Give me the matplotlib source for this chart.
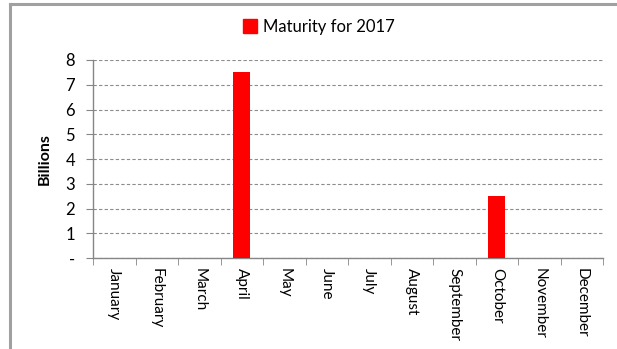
import matplotlib
matplotlib.use("Agg")
import matplotlib.pyplot as plt
from matplotlib.lines import Line2D
from matplotlib.ticker import FixedLocator, FuncFormatter

months = ["January", "February", "March", "April", "May", "June", "July",
          "August", "September", "October", "November", "December"]
values = [0, 0, 0, 7.5, 0, 0, 0, 0, 0, 2.5, 0, 0]
series_name = "Maturity for 2017"

plt.rcParams['font.family'] = ['Lato', 'DejaVu Sans']

W, H = 617, 349
fig = plt.figure(figsize=(W/100, H/100), dpi=100)
ax = fig.add_axes([93/W, 1-258/H, (603-93)/W, (258-60)/H])

x = list(range(len(months)))
ax.bar(x, values, width=0.4, color="#ff0000", zorder=3, label=series_name)

ax.set_xlim(-0.5, 11.5)
ax.set_ylim(0, 8)
ax.set_yticks(range(0, 9))
ax.yaxis.set_major_formatter(FuncFormatter(lambda v, p: "-" if v == 0 else f"{int(v)}"))
ax.set_xticks(x)
ax.set_xticklabels(months, rotation=-90, fontsize=11)
ax.xaxis.set_minor_locator(FixedLocator([i - 0.5 for i in range(13)]))
ax.tick_params(axis='x', which='major', length=0, pad=7)
ax.tick_params(axis='x', which='minor', length=5, color="#868686", direction='out')
ax.tick_params(axis='y', length=5, color="#868686", labelsize=12, pad=8)

ax.grid(axis='y', linestyle=(0, (3, 2)), color="#8c8c8c", linewidth=0.8, zorder=0)
for s in ["top", "right"]:
    ax.spines[s].set_visible(False)
for s in ["left", "bottom"]:
    ax.spines[s].set_color("#868686")
    ax.spines[s].set_linewidth(1)

ax.set_ylabel("Billions", fontsize=11.5, fontweight='bold', labelpad=10)

handle = Line2D([], [], marker='s', color='none', markerfacecolor='#ff0000',
                markeredgecolor='#ff0000', markersize=10)
fig.legend([handle], [series_name], loc='center', bbox_to_anchor=(318/W, 1-27/H),
           frameon=False, fontsize=12, handletextpad=0.3, handlelength=1)

# chart border
fig.add_artist(Line2D([10/W, 10/W], [0, 1-4/H], color="#a0a0a0", linewidth=2.2,
                      transform=fig.transFigure))
fig.add_artist(Line2D([10/W, 1], [1-4/H, 1-4/H], color="#a0a0a0", linewidth=2.2,
                      transform=fig.transFigure))

fig.savefig("out.png", dpi=100)
